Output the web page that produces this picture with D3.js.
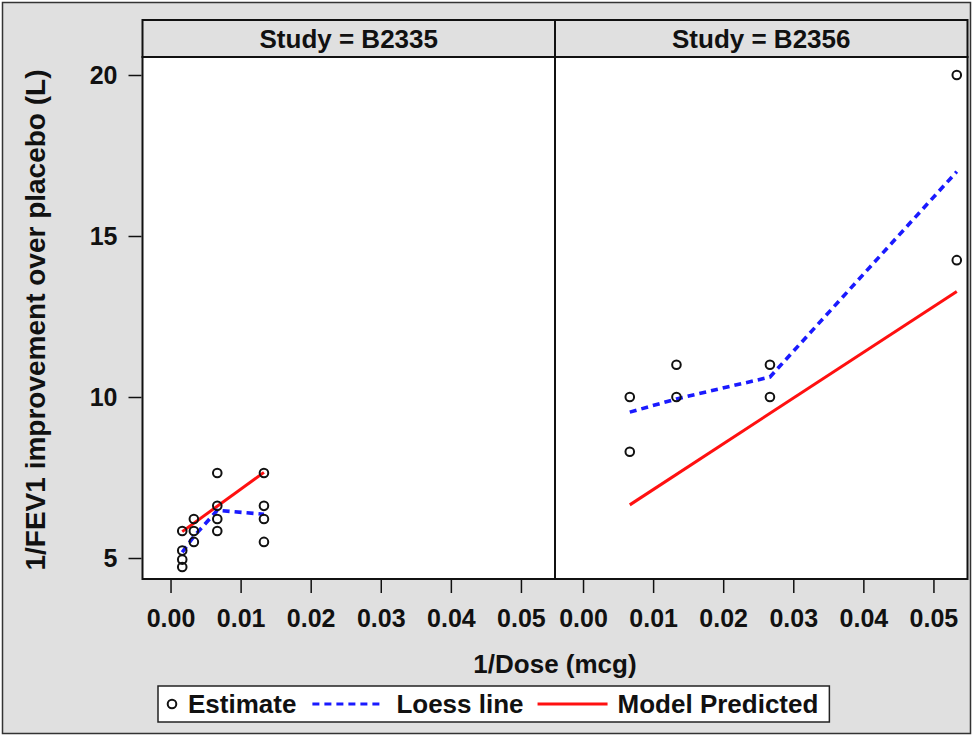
<!DOCTYPE html>
<html>
<head>
<meta charset="utf-8">
<script src="https://cdn.jsdelivr.net/npm/d3@7"></script>
<style>
  body { margin: 0; background: #fff; }
  svg { display: block; font-family: "Liberation Sans", Arial, sans-serif; font-weight: bold; }
</style>
</head>
<body>
<svg id="chart"></svg>
<script>
var width = 973;
var height = 736;

// data
var studies = ['B2335', 'B2356'];

var estDoseB2335 = [0.00167, 0.00167, 0.00167, 0.00167, 0.00333, 0.00333, 0.00333,
                    0.00667, 0.00667, 0.00667, 0.00667, 0.01333, 0.01333, 0.01333, 0.01333];
var estValB2335  = [5.84, 5.23, 4.95, 4.72, 6.21, 5.84, 5.50,
                    7.64, 6.62, 6.21, 5.84, 7.64, 6.62, 6.21, 5.50];

var estDoseB2356 = [0.00667, 0.00667, 0.01333, 0.01333, 0.02667, 0.02667, 0.05333, 0.05333];
var estValB2356  = [10.0, 8.3, 11.0, 10.0, 11.0, 10.0, 20.0, 14.25];

var loessDoseB2335 = [0.00167, 0.00333, 0.00667, 0.01333];
var loessValB2335  = [5.18, 5.67, 6.48, 6.36];
var loessDoseB2356 = [0.00667, 0.01333, 0.02667, 0.05333];
var loessValB2356  = [9.53, 9.94, 10.62, 17.0];

var modelDoseB2335 = [0.00167, 0.01333];
var modelValB2335  = [5.82, 7.66];
var modelDoseB2356 = [0.00667, 0.05333];
var modelValB2356  = [6.65, 13.28];

var xTicks = [0, 0.01, 0.02, 0.03, 0.04, 0.05];
var yTicks = [5, 10, 15, 20];

function zip(xs, ys){
    return xs.map((x, i) => ({x: x, y: ys[i]}));
}

var panels = [
    {study: studies[0], est: zip(estDoseB2335, estValB2335),
     loess: zip(loessDoseB2335, loessValB2335), model: zip(modelDoseB2335, modelValB2335)},
    {study: studies[1], est: zip(estDoseB2356, estValB2356),
     loess: zip(loessDoseB2356, loessValB2356), model: zip(modelDoseB2356, modelValB2356)}
];

// layout
var plotLeft = 142.5;
var panelW = 412.5;
var headTop = 20;
var plotTop = 57;
var plotBottom = 579;
var ink = '#111';
var bg = '#e0e0e0';

var svg = d3.select('#chart')
    .attr('width', width)
    .attr('height', height);

svg.append('rect')
    .attr('x', 2.5).attr('y', 2.5)
    .attr('width', width - 5).attr('height', height - 5)
    .attr('fill', bg)
    .attr('stroke', '#333')
    .attr('stroke-width', 1.5);

var xScale = d3.scaleLinear()
    .domain([-0.004, 0.05486])
    .range([0, panelW]);

var yScale = d3.scaleLinear()
    .domain([4.348, 20.559])
    .range([plotBottom, plotTop]);

var line = d3.line()
    .x(d => xScale(d.x))
    .y(d => yScale(d.y));

panels.forEach(function(p, i){
    var g = svg.append('g')
        .attr('transform', 'translate(' + (plotLeft + i * panelW) + ',0)');

    // header strip
    g.append('rect')
        .attr('x', 0).attr('y', headTop)
        .attr('width', panelW).attr('height', plotTop - headTop)
        .attr('fill', bg)
        .attr('stroke', ink)
        .attr('stroke-width', 2);

    g.append('text')
        .attr('x', panelW / 2)
        .attr('y', (headTop + plotTop) / 2)
        .attr('dy', '0.36em')
        .style('text-anchor', 'middle')
        .style('font-size', '26px')
        .attr('fill', ink)
        .text('Study = ' + p.study);

    // plot area
    g.append('rect')
        .attr('x', 0).attr('y', plotTop)
        .attr('width', panelW).attr('height', plotBottom - plotTop)
        .attr('fill', '#fff')
        .attr('stroke', ink)
        .attr('stroke-width', 2);

    g.append('path')
        .datum(p.model)
        .attr('d', line)
        .attr('fill', 'none')
        .attr('stroke', '#ff1010')
        .attr('stroke-width', 3);

    g.append('path')
        .datum(p.loess)
        .attr('d', line)
        .attr('fill', 'none')
        .attr('stroke', '#1a1aff')
        .attr('stroke-width', 3.6)
        .attr('stroke-dasharray', '7,5');

    g.selectAll('circle')
        .data(p.est)
        .enter()
        .append('circle')
            .attr('cx', d => xScale(d.x))
            .attr('cy', d => yScale(d.y))
            .attr('r', 4.3)
            .attr('fill', 'none')
            .attr('stroke', ink)
            .attr('stroke-width', 2);

    // x axis
    var xAxis = d3.axisBottom(xScale)
        .tickValues(xTicks)
        .tickFormat(d3.format('.2f'))
        .tickSize(13)
        .tickPadding(16);

    var xa = g.append('g')
        .attr('transform', 'translate(0,' + (plotBottom + 1) + ')')
        .call(xAxis);
    xa.select('.domain').remove();
    xa.selectAll('line').attr('stroke', ink).attr('stroke-width', 1.5);
    xa.selectAll('text')
        .attr('fill', ink)
        .style('font-size', '25px')
        .style('font-family', '"Liberation Sans", Arial, sans-serif')
        .style('font-weight', 'bold');

    if(i === 0){
        var yAxis = d3.axisLeft(yScale)
            .tickValues(yTicks)
            .tickSize(13)
            .tickPadding(11);
        var ya = g.append('g')
            .attr('transform', 'translate(-1,0)')
            .call(yAxis);
        ya.select('.domain').remove();
        ya.selectAll('line').attr('stroke', ink).attr('stroke-width', 1.5);
        ya.selectAll('text')
            .attr('fill', ink)
            .style('font-size', '25px')
            .style('font-family', '"Liberation Sans", Arial, sans-serif')
            .style('font-weight', 'bold');
    }
});

// axis titles
svg.append('text')
    .attr('x', plotLeft + panelW)
    .attr('y', 673)
    .style('text-anchor', 'middle')
    .style('font-size', '26px')
    .attr('fill', ink)
    .text('1/Dose (mcg)');

svg.append('text')
    .attr('transform', 'translate(45,' + ((plotTop + plotBottom) / 2 + 2) + ') rotate(-90)')
    .style('text-anchor', 'middle')
    .style('font-size', '28px')
    .attr('fill', ink)
    .text('1/FEV1 improvement over placebo (L)');

// legend
var legY = 704;
var leg = svg.append('g');
var legBox = leg.append('rect')
    .attr('y', 686).attr('height', 36)
    .attr('fill', '#fff')
    .attr('stroke', '#222')
    .attr('stroke-width', 1.5);

var cx = 172;
leg.append('circle')
    .attr('cx', cx).attr('cy', legY).attr('r', 4.3)
    .attr('fill', 'none').attr('stroke', ink).attr('stroke-width', 2);
cx += 16;

function legText(label){
    var t = leg.append('text')
        .attr('x', cx).attr('y', legY)
        .attr('dy', '0.36em')
        .style('font-size', '26px')
        .attr('fill', ink)
        .text(label);
    cx += t.node().getComputedTextLength();
}

function legLine(color, dash, w){
    leg.append('line')
        .attr('x1', cx).attr('x2', cx + 70)
        .attr('y1', legY).attr('y2', legY)
        .attr('stroke', color)
        .attr('stroke-width', w)
        .attr('stroke-dasharray', dash);
    cx += 70;
}

legText('Estimate');
cx += 16;
legLine('#1a1aff', '7,5', 3.2);
cx += 14;
legText('Loess line');
cx += 14;
legLine('#ff1010', null, 3);
cx += 10;
legText('Model Predicted');
cx += 11;

legBox.attr('x', 158).attr('width', cx - 158);
</script>
</body>
</html>
